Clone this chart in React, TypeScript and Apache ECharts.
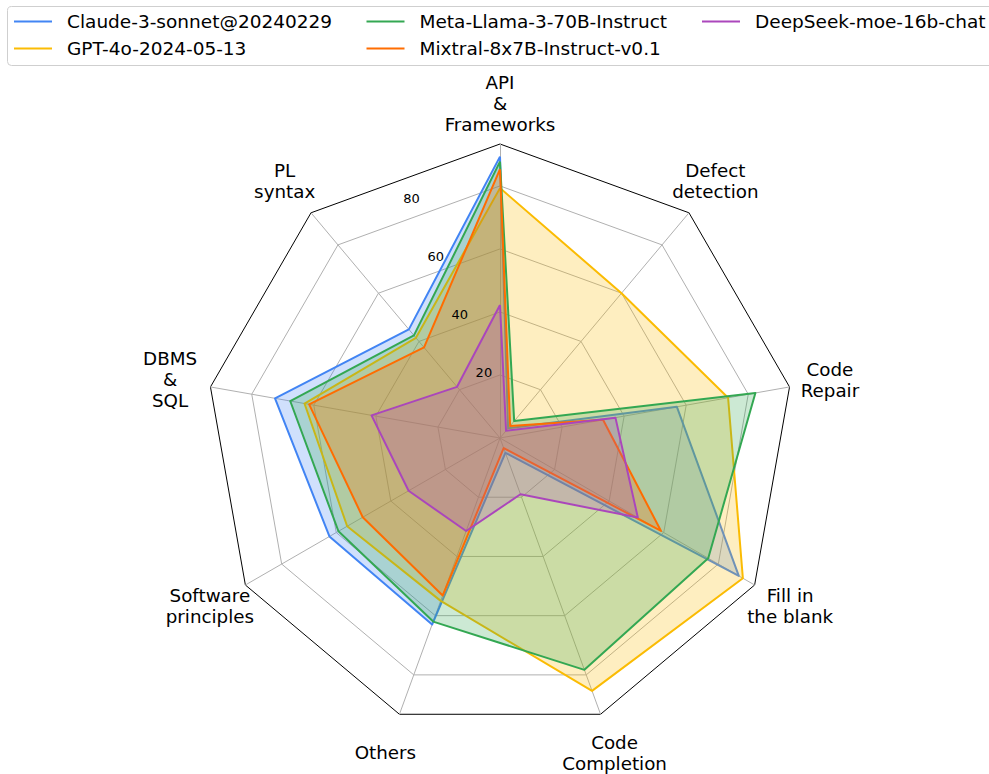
import React, { useEffect, useRef } from "react";
import * as echarts from "echarts";

// Axes, clockwise from the top
const categories = [
  "API\n&\nFrameworks",
  "Defect\ndetection",
  "Code\nRepair",
  "Fill in\nthe blank",
  "Code\nCompletion",
  "Others",
  "Software\nprinciples",
  "DBMS\n&\nSQL",
  "PL\nsyntax",
];

const seriesNames = [
  "Claude-3-sonnet@20240229",
  "GPT-4o-2024-05-13",
  "Meta-Llama-3-70B-Instruct",
  "Mixtral-8x7B-Instruct-v0.1",
  "DeepSeek-moe-16b-chat",
];

// values in the same (clockwise) order as categories
const claude = [89.3, 4, 57, 87.5, 5, 63, 62.5, 72.5, 45];
const gpt4o = [79.3, 60, 73.5, 89, 85.4, 55, 56, 63, 41.5];
const llama = [87.7, 7, 82.3, 76.3, 78.3, 62, 59.2, 67.6, 42.5];
const mixtral = [85.3, 5, 33.2, 59, 3.4, 53.2, 50.3, 61.5, 37.5];
const deepseek = [42.2, 3, 37.2, 50.5, 19, 31.4, 33.5, 41.4, 21.2];

const tickLabels = [20, 40, 60, 80];
const radialMax = 93.3;

const colors = ["#4285F4", "#FBBC04", "#34A853", "#FF6D01", "#AB47BC"];

const CX = 500;
const CY = 438;
const R = 294;
const NAME_R = 335;
const FONT = "DejaVu Sans";

export default function App() {
  const ref = useRef<HTMLDivElement>(null);

  useEffect(() => {
    if (!ref.current) return;
    const chart = echarts.init(ref.current, undefined, { renderer: "svg" });
    const n = categories.length;
    // ECharts radar goes counter-clockwise: reorder so the visual order is clockwise
    const order = [0, ...Array.from({ length: n - 1 }, (_, k) => n - 1 - k)];
    const dataSets = [claude, gpt4o, llama, mixtral, deepseek];
    const toPx = (v: number) => (v / radialMax) * R;

    const graphics: any[] = [
      {
        type: "rect",
        shape: { x: 7.5, y: 6.5, width: 990, height: 59, r: 4 },
        style: { fill: "#fff", stroke: "#cfcfcf", lineWidth: 1 },
        z: -10,
      },
    ];
    categories.forEach((c, i) => {
      const a = ((90 - i * (360 / n)) * Math.PI) / 180;
      graphics.push({
        type: "text",
        x: CX + NAME_R * Math.cos(a),
        y: CY - NAME_R * Math.sin(a),
        z: 100,
        style: {
          text: c,
          fill: "#000",
          fontSize: 18.3,
          fontFamily: FONT,
          lineHeight: 21,
          align: "center",
          verticalAlign: "middle",
          textAlign: "center",
          textVerticalAlign: "middle",
        },
      });
    });
    const la = (22.5 * Math.PI) / 180;
    tickLabels.forEach((t) => {
      const r = toPx(t);
      graphics.push({
        type: "text",
        x: CX + 8 - r * Math.sin(la),
        y: CY - 7 - r * Math.cos(la),
        z: 100,
        style: {
          text: String(t),
          fill: "#000",
          fontSize: 13,
          fontFamily: FONT,
          align: "center",
          verticalAlign: "middle",
          textAlign: "center",
          textVerticalAlign: "middle",
        },
      });
    });

    const legendCols = [[0, 1], [2, 3], [4]];
    const legendX = [14, 366.5, 702];

    chart.setOption({
      animation: false,
      backgroundColor: "#fff",
      legend: legendCols.map((col, k) => ({
        data: col.map((i) => seriesNames[i]),
        orient: "vertical",
        left: legendX[k],
        top: 11,
        padding: 0,
        itemWidth: 38,
        itemHeight: 2,
        itemGap: 6,
        icon: "rect",
        selectedMode: false,
        itemStyle: { borderWidth: 0 },
        textStyle: {
          fontSize: 18.5,
          fontFamily: FONT,
          color: "#000",
          lineHeight: 21,
          padding: [0, 0, 0, 10],
        },
      })),
      radar: [
        {
          center: [CX, CY],
          radius: (R * 100) / radialMax,
          startAngle: 90,
          shape: "polygon",
          splitNumber: 5,
          indicator: order.map((i) => ({ name: categories[i], min: 0, max: 100 })),
          axisName: { show: false },
          axisLine: { show: false },
          axisTick: { show: false },
          axisLabel: { show: false },
          splitArea: { show: false },
          splitLine: {
            lineStyle: {
              color: ["#b0b0b0", "#b0b0b0", "#b0b0b0", "#b0b0b0", "#b0b0b0", "rgba(0,0,0,0)"],
              width: 1,
            },
          },
        },
        {
          center: [CX, CY],
          radius: R,
          startAngle: 90,
          shape: "polygon",
          splitNumber: 1,
          indicator: order.map((i) => ({ name: categories[i], min: 0, max: radialMax })),
          axisName: { show: false },
          axisLine: { show: true, lineStyle: { color: "#b0b0b0", width: 1 } },
          axisTick: { show: false },
          axisLabel: { show: false },
          splitArea: { show: false },
          splitLine: { lineStyle: { color: "#000", width: 1 } },
        },
      ],
      graphic: graphics,
      series: dataSets.map((vals, s) => ({
        type: "radar",
        radarIndex: 0,
        name: seriesNames[s],
        symbol: "none",
        z: 2 + s,
        itemStyle: { color: colors[s] },
        lineStyle: { color: colors[s], width: 2 },
        areaStyle: { color: colors[s], opacity: 0.25 },
        data: [{ name: seriesNames[s], value: order.map((i) => vals[i]) }],
      })),
    });
    return () => chart.dispose();
  }, []);

  return (
    <div
      ref={ref}
      style={{ position: "fixed", left: 0, top: 0, width: 989, height: 774 }}
    />
  );
}
